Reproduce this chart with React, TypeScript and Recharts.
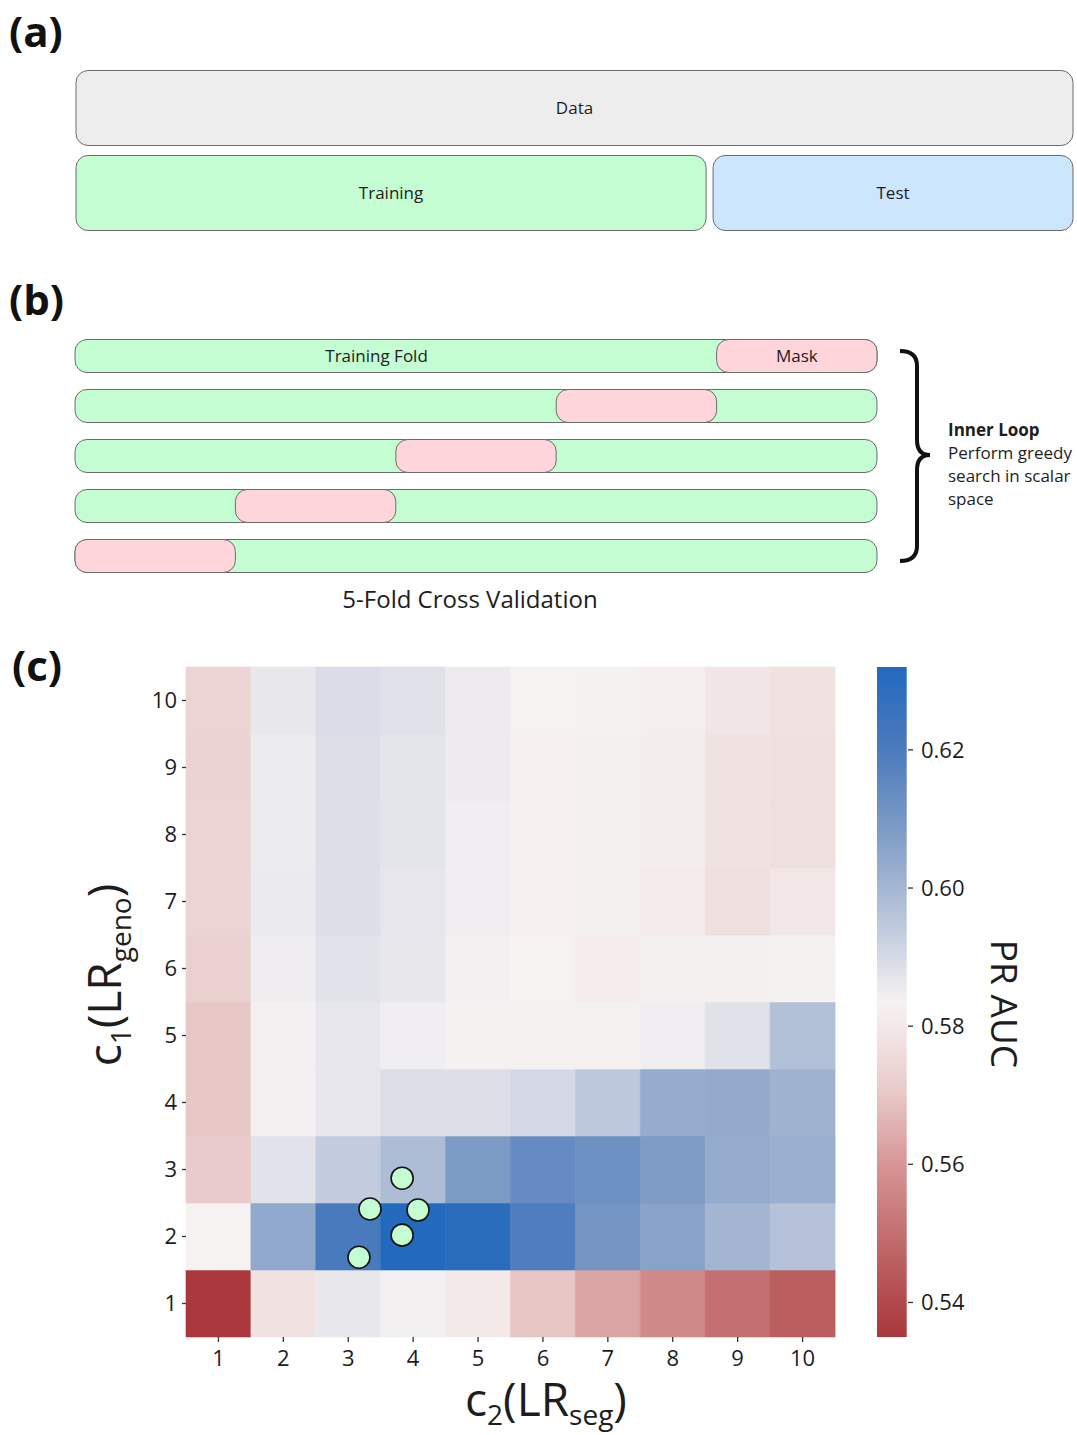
import React from 'react';
import { BarChart, Bar, XAxis, YAxis, LabelList, ComposedChart, Scatter, Cell } from 'recharts';

const FONT = '"Open Sans", "Noto Sans", sans-serif';
const INK = '#1d1d1d';
const GREEN = '#c4fdd1';
const PINK = '#fdd5da';
const TEST_BLUE = '#cce6fe';
const DATA_GREY = '#ededed';
const EDGE = '#6b6b6b';

// (a) train / test split, as shares of the data
const SPLIT_ROWS = ['Data', 'Split'];
const DATA_SHARE = [1, null];
const TRAIN_SHARE = [null, 0.632];
const GAP_SHARE = [null, 0.007];
const TEST_SHARE = [null, 0.361];
const DATA_LABELS = ['Data', ''];
const TRAIN_LABELS = ['', 'Training'];
const TEST_LABELS = ['', 'Test'];

// (b) 5-fold inner loop: which fold is masked in each row
const FOLDS = [1, 2, 3, 4, 5];
const MASK_START = [4, 3, 2, 1, 0];
const FOLD_LABELS = ['Training Fold', '', '', '', ''];
const MASK_LABELS = ['Mask', '', '', '', ''];

// (c) PR AUC grid, one array per c1 row (c2 = 1..10)
const C2_TICKS = ['1', '2', '3', '4', '5', '6', '7', '8', '9', '10'];
const C1_TICKS = [1, 2, 3, 4, 5, 6, 7, 8, 9, 10];
const AUC_C1_1 = [0.535, 0.5784, 0.5863, 0.584, 0.5804, 0.5697, 0.5629, 0.5568, 0.5501, 0.5454];
const AUC_C1_2 = [0.5834, 0.6041, 0.6206, 0.632, 0.6296, 0.6191, 0.6105, 0.606, 0.6004, 0.5964];
const AUC_C1_3 = [0.5709, 0.5877, 0.5938, 0.5979, 0.6086, 0.614, 0.6121, 0.6081, 0.6035, 0.602];
const AUC_C1_4 = [0.5701, 0.584, 0.5867, 0.5885, 0.5885, 0.5903, 0.5948, 0.6031, 0.6037, 0.6011];
const AUC_C1_5 = [0.5701, 0.584, 0.5867, 0.5846, 0.5832, 0.5832, 0.5832, 0.5846, 0.5879, 0.5969];
const AUC_C1_6 = [0.5722, 0.5849, 0.5877, 0.5863, 0.584, 0.5834, 0.582, 0.5828, 0.5828, 0.5838];
const AUC_C1_7 = [0.5736, 0.5857, 0.5887, 0.5867, 0.5846, 0.583, 0.5827, 0.581, 0.5774, 0.5797];
const AUC_C1_8 = [0.5736, 0.5855, 0.5887, 0.5873, 0.5846, 0.583, 0.5827, 0.5817, 0.5784, 0.5774];
const AUC_C1_9 = [0.5732, 0.5855, 0.5889, 0.5873, 0.5853, 0.583, 0.5827, 0.5817, 0.5784, 0.5774];
const AUC_C1_10 = [0.5736, 0.5863, 0.5891, 0.5881, 0.5853, 0.5836, 0.5833, 0.5823, 0.5791, 0.5784];
const GRID = [AUC_C1_1, AUC_C1_2, AUC_C1_3, AUC_C1_4, AUC_C1_5, AUC_C1_6, AUC_C1_7, AUC_C1_8, AUC_C1_9, AUC_C1_10];

// greedy-search picks (c2, c1)
const PICK_C2 = [3.83, 3.335, 4.075, 3.83, 3.165];
const PICK_C1 = [2.87, 2.41, 2.395, 2.02, 1.69];

const VMIN = 0.535;
const VMAX = 0.632;
const CB_TICKS = [0.54, 0.56, 0.58, 0.6, 0.62];

// vlag_r-like diverging map, red (low) -> light -> blue (high)
const CMAP: [number, number[]][] = [
  [0, [169, 55, 59]],
  [0.125, [190, 100, 102]],
  [0.25, [213, 146, 146]],
  [0.375, [234, 205, 205]],
  [0.5, [246, 242, 242]],
  [0.625, [185, 197, 218]],
  [0.75, [128, 157, 198]],
  [0.875, [76, 123, 190]],
  [1, [35, 105, 189]],
];

function cmap(v: number) {
  const t = Math.max(0, Math.min(1, (v - VMIN) / (VMAX - VMIN)));
  for (let i = 1; i < CMAP.length; i++) {
    const [t1, c1] = CMAP[i];
    const [t0, c0] = CMAP[i - 1];
    if (t <= t1) {
      const f = (t - t0) / (t1 - t0);
      const c = c0.map((a, k) => Math.round(a + (c1[k] - a) * f));
      return `rgb(${c[0]},${c[1]},${c[2]})`;
    }
  }
  return 'rgb(35,105,189)';
}

const splitTable = SPLIT_ROWS.map((row, i) => ({
  row,
  data: DATA_SHARE[i], train: TRAIN_SHARE[i], gap: GAP_SHARE[i], test: TEST_SHARE[i],
  dataLabel: DATA_LABELS[i] || undefined,
  trainLabel: TRAIN_LABELS[i] || undefined,
  testLabel: TEST_LABELS[i] || undefined,
}));

const foldTable = FOLDS.map((fold, i) => ({
  fold,
  span: [0, FOLDS.length],
  mask: [MASK_START[i], MASK_START[i] + 1],
  foldLabel: FOLD_LABELS[i] || undefined,
  maskLabel: MASK_LABELS[i] || undefined,
}));

const heatTable = C2_TICKS.map((c2) => {
  const row: Record<string, any> = { c2 };
  GRID.forEach((_, i) => { row[`r${i}`] = 1; });
  return row;
});

const picks = PICK_C2.map((c2, i) => ({ x: c2 - 0.5, y: PICK_C1[i] - 0.5 }));

const labelStyle = { fill: INK, fontSize: 17, fontFamily: FONT };

function FoldLabel(props: any) {
  const { value } = props;
  if (!value) return null;
  const vb = props.viewBox || props;
  return (
    <text x={vb.x + vb.width * 0.376} y={vb.y + vb.height / 2 - 1} textAnchor="middle"
      dominantBaseline="central" {...labelStyle}>{value}</text>
  );
}

function YTitle({ viewBox }: any) {
  const x = viewBox.x + 21;
  const y = viewBox.y + viewBox.height / 2 - 27;
  return (
    <text x={x} y={y} transform={`rotate(-90 ${x} ${y})`} textAnchor="middle" fontSize={46} fill={INK} fontFamily={FONT}>
      <tspan>c</tspan><tspan fontSize={28} dy={10}>1</tspan><tspan dy={-10}>(LR</tspan>
      <tspan fontSize={28} dy={10}>geno</tspan><tspan dy={-10}>)</tspan>
    </text>
  );
}

function XTitle({ viewBox }: any) {
  const x = viewBox.x + 360;
  const y = viewBox.y + 79;
  return (
    <text x={x} y={y} textAnchor="middle" fontSize={46} fill={INK} fontFamily={FONT}>
      <tspan>c</tspan><tspan fontSize={28} dy={9}>2</tspan><tspan dy={-9}>(LR</tspan>
      <tspan fontSize={28} dy={9}>seg</tspan><tspan dy={-9}>)</tspan>
    </text>
  );
}

function CbTitle({ viewBox }: any) {
  const x = viewBox.x + 83;
  const y = viewBox.y + viewBox.height / 2 + 2;
  return (
    <text x={x} y={y} transform={`rotate(90 ${x} ${y})`} textAnchor="middle" fontSize={37} fill={INK} fontFamily={FONT}>
      PR AUC
    </text>
  );
}

const tickFont = { fontSize: 22, fill: INK, fontFamily: FONT };

export default function App() {
  return (
    <div style={{ position: 'absolute', left: 0, top: 0, width: 1077, height: 1435, background: '#fff', fontFamily: FONT }}>
      {/* (a) */}
      <div style={{ position: 'absolute', left: 0, top: 0 }}>
        <BarChart width={1077} height={250} layout="vertical" data={splitTable}
          margin={{ top: 65.5, right: 4, bottom: 14.5, left: 76 }} barCategoryGap={0}>
          <XAxis type="number" domain={[0, 1]} hide />
          <YAxis type="category" dataKey="row" hide />
          <Bar dataKey="data" stackId="s" barSize={75} radius={12} fill={DATA_GREY} stroke={EDGE} isAnimationActive={false}>
            <LabelList dataKey="dataLabel" position="center" {...labelStyle} />
          </Bar>
          <Bar dataKey="train" stackId="s" barSize={75} radius={12} fill={GREEN} stroke={EDGE} isAnimationActive={false}>
            <LabelList dataKey="trainLabel" position="center" {...labelStyle} />
          </Bar>
          <Bar dataKey="gap" stackId="s" barSize={75} fill="none" stroke="none" isAnimationActive={false} />
          <Bar dataKey="test" stackId="s" barSize={75} radius={12} fill={TEST_BLUE} stroke={EDGE} isAnimationActive={false}>
            <LabelList dataKey="testLabel" position="center" {...labelStyle} />
          </Bar>
        </BarChart>
      </div>

      {/* (b) */}
      <div style={{ position: 'absolute', left: 0, top: 300 }}>
        <BarChart width={1077} height={300} layout="vertical" data={foldTable}
          margin={{ top: 30.5, right: 200, bottom: 19.5, left: 75 }}>
          <XAxis type="number" domain={[0, FOLDS.length]} hide />
          <YAxis yAxisId="fold" type="category" dataKey="fold" hide />
          <YAxis yAxisId="mask" type="category" dataKey="fold" hide />
          <Bar yAxisId="fold" dataKey="span" barSize={33} radius={12} fill={GREEN} stroke={EDGE} isAnimationActive={false}>
            <LabelList dataKey="foldLabel" content={FoldLabel} />
          </Bar>
          <Bar yAxisId="mask" dataKey="mask" barSize={33} radius={12} fill={PINK} stroke={EDGE} isAnimationActive={false}>
            <LabelList dataKey="maskLabel" position="center" {...labelStyle} />
          </Bar>
        </BarChart>
      </div>

      {/* (c) heatmap */}
      <div style={{ position: 'absolute', left: 0, top: 640 }}>
        <ComposedChart width={860} height={795} data={heatTable}
          margin={{ top: 27, right: 25, bottom: 50, left: 100 }} barCategoryGap={0}>
          <XAxis dataKey="c2" type="category" height={48} axisLine={false} tickSize={5}
            tickLine={{ stroke: '#333', strokeWidth: 1.3 }} tick={tickFont} tickMargin={8}
            label={{ content: XTitle }} />
          <XAxis xAxisId="pt" dataKey="x" type="number" domain={[0, 10]} hide />
          <YAxis type="number" domain={[0, GRID.length]} ticks={GRID.map((_, i) => i + 0.5)}
            tickFormatter={(v: number) => String(C1_TICKS[Math.round(v - 0.5)])}
            width={86} axisLine={false} tickSize={4} tickLine={{ stroke: '#333', strokeWidth: 1.3 }}
            tick={tickFont} tickMargin={5} label={{ content: YTitle }} />
          {GRID.map((vals, i) => (
            <Bar key={i} dataKey={`r${i}`} stackId="h" isAnimationActive={false}>
              {vals.map((v, j) => <Cell key={j} fill={cmap(v)} stroke={cmap(v)} strokeWidth={0.6} />)}
            </Bar>
          ))}
          <Scatter xAxisId="pt" data={picks} dataKey="y" isAnimationActive={false}
            shape={(p: any) => <circle cx={p.cx} cy={p.cy} r={11} fill={GREEN} stroke="#111" strokeWidth={1.6} />} />
        </ComposedChart>
      </div>

      {/* (c) colour bar */}
      <div style={{ position: 'absolute', left: 860, top: 640 }}>
        <BarChart width={217} height={795} data={[{ name: 'PR AUC', range: [VMIN, VMAX] }]}
          margin={{ top: 27, right: 109, bottom: 98, left: 15 }} barCategoryGap={0}>
          <defs>
            <linearGradient id="cbGrad" x1="0" y1="1" x2="0" y2="0">
              {CMAP.map(([t, c]) => <stop key={t} offset={`${t * 100}%`} stopColor={`rgb(${c[0]},${c[1]},${c[2]})`} />)}
            </linearGradient>
          </defs>
          <XAxis dataKey="name" hide />
          <YAxis orientation="right" type="number" domain={[VMIN, VMAX]} ticks={CB_TICKS}
            tickFormatter={(v: number) => v.toFixed(2)} width={60} axisLine={false} tickSize={5}
            tickLine={{ stroke: '#333', strokeWidth: 1.3 }} tick={tickFont} tickMargin={8}
            allowDataOverflow label={{ content: CbTitle }} />
          <Bar dataKey="range" barSize={33} fill="url(#cbGrad)" isAnimationActive={false} />
        </BarChart>
      </div>

      {/* panel letters, brace and notes */}
      <svg width={1077} height={1435} style={{ position: 'absolute', left: 0, top: 0, pointerEvents: 'none' }} fontFamily={FONT}>
        <text x={9} y={47} fontSize={42} fontWeight={700} fill="#111">(a)</text>
        <text x={9} y={315} fontSize={42} fontWeight={700} fill="#111">(b)</text>
        <text x={12} y={681} fontSize={42} fontWeight={700} fill="#111">(c)</text>
        <text x={470} y={608} fontSize={24} textAnchor="middle" fill={INK}>5-Fold Cross Validation</text>
        <path d="M 900 351 Q 917 351 917 366 L 917 440 Q 917 455 930 455 Q 917 455 917 470 L 917 546 Q 917 561 900 561"
          fill="none" stroke="#111" strokeWidth={4} />
        <text x={948} y={436} fontSize={17} fontWeight={700} fill={INK}>Inner Loop</text>
        <text x={948} y={459} fontSize={17} fill={INK}>Perform greedy</text>
        <text x={948} y={482} fontSize={17} fill={INK}>search in scalar</text>
        <text x={948} y={505} fontSize={17} fill={INK}>space</text>
      </svg>
    </div>
  );
}
